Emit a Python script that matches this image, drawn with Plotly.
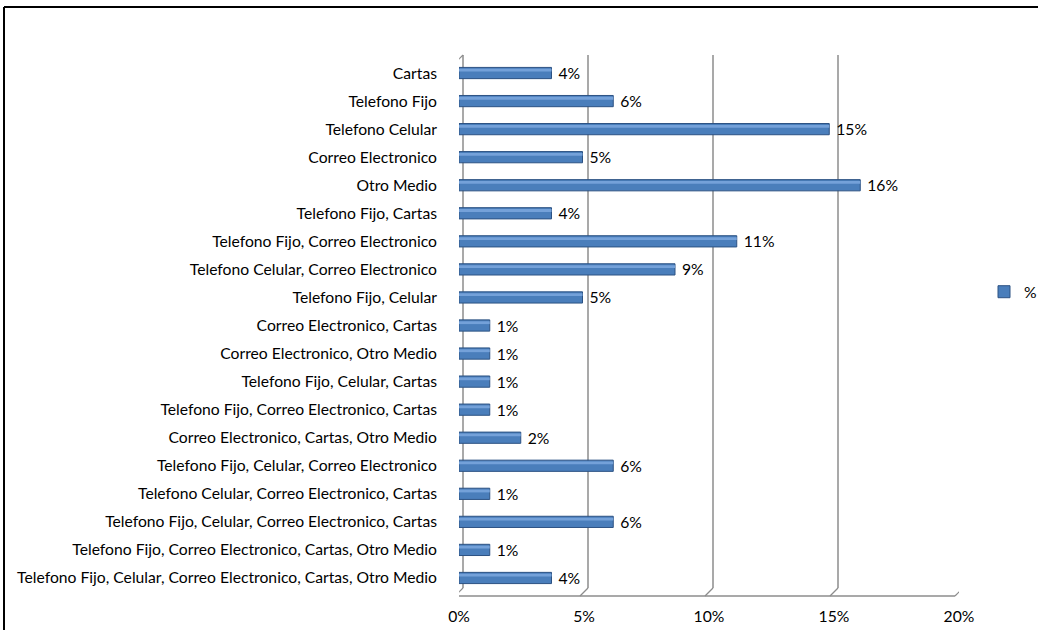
import plotly.graph_objects as go

# Medio de contacto preferido (porcentaje de encuestados)
categorias = [
    "Cartas",
    "Telefono Fijo",
    "Telefono Celular",
    "Correo Electronico",
    "Otro Medio",
    "Telefono Fijo, Cartas",
    "Telefono Fijo, Correo Electronico",
    "Telefono Celular, Correo Electronico",
    "Telefono Fijo, Celular",
    "Correo Electronico, Cartas",
    "Correo Electronico, Otro Medio",
    "Telefono Fijo, Celular, Cartas",
    "Telefono Fijo, Correo Electronico, Cartas",
    "Correo Electronico, Cartas, Otro Medio",
    "Telefono Fijo, Celular, Correo Electronico",
    "Telefono Celular, Correo Electronico, Cartas",
    "Telefono Fijo, Celular, Correo Electronico, Cartas",
    "Telefono Fijo, Correo Electronico, Cartas, Otro Medio",
    "Telefono Fijo, Celular, Correo Electronico, Cartas, Otro Medio",
]
porcentajes = [3.70, 6.17, 14.81, 4.94, 16.05, 3.70, 11.11, 8.64, 4.94, 1.23,
               1.23, 1.23, 1.23, 2.47, 6.17, 1.23, 6.17, 1.23, 3.70]
ticks_x = [0, 5, 10, 15, 20]
etiquetas_x = ["0%", "5%", "10%", "15%", "20%"]

etiquetas = [f"\u00a0{round(v)}%" for v in porcentajes]

FIG_W, FIG_H = 1038, 630
L, R, T, B = 459, 79, 59, 38
W = FIG_W - L - R
H = FIG_H - T - B
D = 4  # depth offset (px) of the pseudo-3D walls
FONT = "Lato"
FS = 15.7
GRID = "#8c8c8c"


def px_x(px):
    return (px - L) / W


def px_y(py):
    return (FIG_H - B - py) / H


fig = go.Figure()
fig.add_trace(go.Bar(
    y=categorias, x=porcentajes, orientation="h", name="%",
    marker=dict(color="#4a7ebb", line=dict(color="#2c5283", width=1)),
    width=0.4, offset=-0.2,
    text=etiquetas, textposition="outside", cliponaxis=False,
    constraintext="none",
    textfont=dict(family=FONT, size=FS, color="#000000"),
))
# highlight strip giving the bars a rounded look
fig.add_trace(go.Bar(
    y=categorias, x=porcentajes, orientation="h", showlegend=False,
    marker=dict(color="#74a1d9", line=dict(width=0)),
    width=0.1, offset=-0.15, hoverinfo="skip",
))

shapes = []
# back wall gridlines
for v in ticks_x:
    shapes.append(dict(type="line", layer="below", xref="x", xsizemode="pixel", xanchor=v,
                       x0=D, x1=D, yref="paper", ysizemode="pixel", yanchor=0,
                       y0=D, y1=H + D, line=dict(color=GRID, width=1.5)))
    # floor edges
    shapes.append(dict(type="line", layer="below", xref="x", xsizemode="pixel", xanchor=v,
                       x0=-D, x1=D, yref="paper", ysizemode="pixel", yanchor=0,
                       y0=-D, y1=D, line=dict(color=GRID, width=1.2)))
# front left wall edge and its top corner
shapes.append(dict(type="line", layer="below", xref="x", xsizemode="pixel", xanchor=0,
                   x0=-D, x1=-D, yref="paper", ysizemode="pixel", yanchor=0,
                   y0=-D, y1=H - D, line=dict(color=GRID, width=1.5)))
shapes.append(dict(type="line", layer="below", xref="x", xsizemode="pixel", xanchor=0,
                   x0=-D, x1=D, yref="paper", ysizemode="pixel", yanchor=0,
                   y0=H - D, y1=H + D, line=dict(color=GRID, width=1.2)))
# front floor edge
shapes.append(dict(type="line", layer="below", xref="x", xsizemode="pixel", xanchor=0,
                   x0=-D, x1=W - D, yref="paper", ysizemode="pixel", yanchor=0,
                   y0=-D, y1=-D, line=dict(color=GRID, width=1.5)))
# category tick marks
n = len(categorias)
for k in range(n + 1):
    yy = k * H / n - D
    shapes.append(dict(type="line", layer="below", xref="x", xsizemode="pixel", xanchor=0,
                       x0=-D - 6, x1=-D, yref="paper", ysizemode="pixel", yanchor=0,
                       y0=yy, y1=yy, line=dict(color=GRID, width=1.2)))
# chart frame
shapes.append(dict(type="line", xref="paper", yref="paper",
                   x0=px_x(4), x1=px_x(1045), y0=px_y(7), y1=px_y(7),
                   line=dict(color="#000000", width=2)))
shapes.append(dict(type="line", xref="paper", yref="paper",
                   x0=px_x(4), x1=px_x(4), y0=px_y(7), y1=px_y(640),
                   line=dict(color="#000000", width=2)))

fig.update_layout(
    width=FIG_W, height=FIG_H,
    margin=dict(l=L, r=R, t=T, b=B, autoexpand=False),
    paper_bgcolor="white", plot_bgcolor="white",
    barmode="overlay",
    font=dict(family=FONT, size=FS, color="#000000"),
    shapes=shapes,
    xaxis=dict(range=[0, 20], tickvals=ticks_x, ticktext=etiquetas_x,
               showgrid=False, zeroline=False, showline=False, ticks="",
               ticklabelstandoff=13, tickfont=dict(family=FONT, size=FS, color="#000000")),
    yaxis=dict(categoryorder="array", categoryarray=categorias,
               range=[n - 0.5, -0.5], showgrid=False, zeroline=False, showline=False,
               ticks="", ticklabelstandoff=21,
               tickfont=dict(family=FONT, size=FS, color="#000000")),
    showlegend=True,
    legend=dict(x=px_x(984), y=px_y(292), xanchor="left", yanchor="middle",
                bgcolor="rgba(0,0,0,0)", font=dict(family=FONT, size=FS, color="#000000"),
                itemwidth=30),
)

fig.write_html("out.html")
